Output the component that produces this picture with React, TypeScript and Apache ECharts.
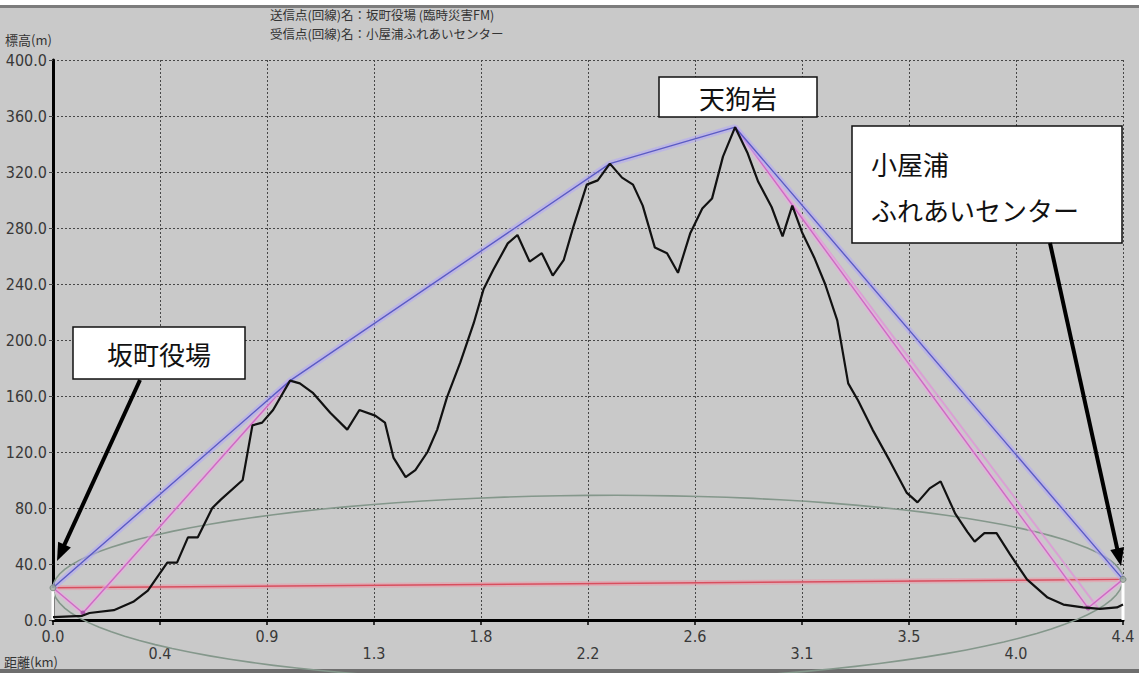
import React, { useEffect, useRef } from "react";
import * as echarts from "echarts";

// Terrain profile between the two stations (distance km, elevation m)
const distanceKm = [
  0.0, 0.12, 0.15, 0.25, 0.33, 0.39, 0.43, 0.47, 0.51, 0.555, 0.595, 0.655, 0.69, 0.78, 0.82, 0.86,
  0.905, 0.975, 1.015, 1.07, 1.14, 1.21, 1.26, 1.325, 1.365, 1.4, 1.45, 1.49, 1.54, 1.58, 1.62,
  1.675, 1.73, 1.77, 1.81, 1.87, 1.91, 1.96, 2.01, 2.055, 2.1, 2.14, 2.195, 2.24, 2.29, 2.34,
  2.385, 2.425, 2.475, 2.525, 2.57, 2.62, 2.67, 2.71, 2.755, 2.805, 2.855, 2.9, 2.955, 3.0, 3.04,
  3.08, 3.13, 3.175, 3.225, 3.27, 3.31, 3.37, 3.44, 3.51, 3.555, 3.605, 3.65, 3.71, 3.76, 3.79,
  3.83, 3.88, 3.935, 4.005, 4.09, 4.155, 4.235, 4.305, 4.375, 4.4,
];
const elevationM = [
  2, 3, 5, 7, 13, 21, 31, 41, 41, 59, 59, 80, 86, 100, 139, 141,
  150, 171, 169, 162, 148, 136, 150, 146, 141, 116, 102, 107, 120, 136, 159,
  184, 212, 236, 250, 269, 275, 256, 262, 246, 257, 281, 311, 314, 326, 316,
  311, 296, 266, 262, 248, 276, 294, 301, 331, 352, 334, 313, 295, 274, 296,
  277, 259, 240, 214, 169, 157, 136, 114, 91, 84, 94, 99, 76, 63, 56,
  62, 62, 47, 29, 16, 11, 9, 8, 9, 11,
];

// Stations: 坂町役場 (transmit) and 小屋浦ふれあいセンター (receive)
const stationKm = [0, 4.4];
const stationHeightM = [23, 29];

// Line of sight over the obstructing peaks
const sightKm = [0, 0.975, 2.29, 2.805, 4.4];
const sightM = [23, 171, 326, 352, 29];

// Ground-reflected paths
const reflectLeftKm = [0, 0.123, 0.975];
const reflectLeftM = [23, 5, 171];
const reflectRightKm = [2.805, 4.256, 4.4];
const reflectRightM = [352, 8.6, 29];
const reflectRightAltKm = [2.805, 4.3];
const reflectRightAltM = [352, 8];

// Fresnel zone half-heights at mid-path (m): above and below the direct path
const fresnelUpperM = 63;
const fresnelLowerM = 70;

const xTicks = { min: 0, max: 4.4, step: 0.44 };
const yTicks = { min: 0, max: 400, step: 40 };

const FONT_NUM = '"Liberation Sans Narrow", "DejaVu Sans Condensed", "Arial Narrow", "Liberation Sans", sans-serif';
const FONT_JP = '"Noto Sans CJK JP", "Noto Sans CJK SC", sans-serif';

const pairs = (xs: number[], ys: number[]) => xs.map((x, i) => [x, ys[i]]);

function arrow(sx: number, sy: number, tx: number, ty: number) {
  const dx = tx - sx;
  const dy = ty - sy;
  const len = Math.hypot(dx, dy);
  const ux = dx / len;
  const uy = dy / len;
  const headLen = 18;
  const headHalf = 7;
  const bx = tx - ux * headLen;
  const by = ty - uy * headLen;
  return [
    {
      type: "line",
      z: 60,
      shape: { x1: sx, y1: sy, x2: bx + ux * 2, y2: by + uy * 2 },
      style: { stroke: "#000", lineWidth: 4 },
    },
    {
      type: "polygon",
      z: 60,
      shape: {
        points: [
          [tx, ty],
          [bx - uy * headHalf, by + ux * headHalf],
          [bx + uy * headHalf, by - ux * headHalf],
        ],
      },
      style: { fill: "#000" },
    },
  ];
}

function callout(x: number, y: number, w: number, h: number) {
  return {
    type: "rect",
    z: 50,
    shape: { x, y, width: w, height: h },
    style: { fill: "#fff", stroke: "#111", lineWidth: 1.5 },
  };
}

function calloutText(x: number, y: number, text: string, align: string) {
  return {
    type: "text",
    z: 55,
    x,
    y,
    style: {
      text,
      fill: "#111",
      font: `26px ${FONT_JP}`,
      align,
      verticalAlign: "middle",
    },
  };
}

export default function App() {
  const ref = useRef<HTMLDivElement>(null);

  useEffect(() => {
    if (!ref.current) return;
    const chart = echarts.init(ref.current, null, { renderer: "svg" });

    const numLabel = { fontFamily: FONT_NUM, fontSize: 16, color: "#383838" };

    const option = {
      animation: false,
      backgroundColor: "#c9c9c9",
      grid: { left: 53, right: 16, top: 60, bottom: 53 },
      xAxis: {
        type: "value",
        min: xTicks.min,
        max: xTicks.max,
        interval: xTicks.step,
        axisLine: { show: true, onZero: false, lineStyle: { color: "#000", width: 3 } },
        axisTick: { show: true, length: 5, lineStyle: { color: "#000", width: 1.5 } },
        axisLabel: {
          margin: 5,
          verticalAlign: "top",
          formatter: (v: number, i: number) => `{${i % 2 === 0 ? "up" : "down"}|${v.toFixed(1)}}`,
          rich: {
            up: { ...numLabel, lineHeight: 22, verticalAlign: "middle" },
            down: { ...numLabel, lineHeight: 36, verticalAlign: "bottom" },
          },
        },
        splitLine: { show: true, lineStyle: { color: "#474747", type: [2, 2], width: 1 } },
      },
      yAxis: {
        type: "value",
        min: yTicks.min,
        max: yTicks.max,
        interval: yTicks.step,
        axisLine: { show: true, lineStyle: { color: "#000", width: 3 } },
        axisTick: { show: true, length: 4, lineStyle: { color: "#444", width: 1 } },
        axisLabel: {
          margin: 6,
          formatter: (v: number) => v.toFixed(1),
          ...numLabel,
        },
        splitLine: { show: true, lineStyle: { color: "#474747", type: [2, 2], width: 1 } },
      },
      graphic: [
        { type: "rect", z: 1, shape: { x: 0, y: 0, width: 1139, height: 5 }, style: { fill: "#fff" } },
        { type: "rect", z: 1, shape: { x: 0, y: 5, width: 1139, height: 3 }, style: { fill: "#7c7c7c" } },
        { type: "rect", z: 0, shape: { x: 0, y: 669, width: 1139, height: 4 }, style: { fill: "#6e6e6e" } },
        {
          type: "text",
          z: 5,
          x: 270,
          y: 8,
          style: { text: "送信点(回線)名：坂町役場 (臨時災害FM)", fill: "#333", font: `12.5px ${FONT_JP}` },
        },
        {
          type: "text",
          z: 5,
          x: 270,
          y: 27,
          style: { text: "受信点(回線)名：小屋浦ふれあいセンター", fill: "#333", font: `12.5px ${FONT_JP}` },
        },
        {
          type: "text",
          z: 5,
          x: 5,
          y: 33,
          style: { text: "標高(m)", fill: "#333", font: `13px ${FONT_JP}` },
        },
        {
          type: "text",
          z: 5,
          x: 4,
          y: 655,
          style: { text: "距離(km)", fill: "#333", font: `13px ${FONT_JP}` },
        },
        callout(73, 327, 172, 52),
        calloutText(159, 353, "坂町役場", "center"),
        callout(659, 77, 158, 40),
        calloutText(738, 97, "天狗岩", "center"),
        callout(852, 126, 270, 117),
        calloutText(871, 163, "小屋浦", "left"),
        calloutText(871, 209, "ふれあいセンター", "left"),
        ...arrow(140, 380, 57, 561),
        ...arrow(1050, 243, 1121, 566),
      ],
      series: [
        {
          type: "custom",
          name: "fresnel",
          clip: false,
          z: 3,
          data: [[stationKm[0], stationHeightM[0], stationKm[1], stationHeightM[1], fresnelUpperM, fresnelLowerM]],
          renderItem: (_params: any, api: any) => {
            const x0 = api.value(0);
            const y0 = api.value(1);
            const x1 = api.value(2);
            const y1 = api.value(3);
            const bUp = api.value(4);
            const bDown = api.value(5);
            const xc = (x0 + x1) / 2;
            const a = (x1 - x0) / 2;
            const pts: number[][] = [];
            for (let k = 0; k <= 120; k++) {
              const th = (k / 120) * Math.PI * 2;
              const x = xc + a * Math.cos(th);
              const mid = y0 + ((x - x0) / (x1 - x0)) * (y1 - y0);
              const s = Math.sin(th);
              pts.push(api.coord([x, mid + (s >= 0 ? bUp : bDown) * s]));
            }
            return {
              type: "polyline",
              shape: { points: pts },
              style: { stroke: "#84978b", lineWidth: 1.6, fill: null },
            };
          },
        },
        {
          type: "line",
          name: "direct-halo",
          z: 4,
          data: pairs(stationKm, stationHeightM),
          showSymbol: false,
          lineStyle: { color: "rgba(236,150,165,0.55)", width: 5 },
        },
        {
          type: "line",
          name: "direct",
          z: 4,
          data: pairs(stationKm, stationHeightM),
          showSymbol: false,
          lineStyle: { color: "#d84e5e", width: 1.4 },
        },
        {
          type: "line",
          name: "reflect-alt",
          z: 5,
          data: pairs(reflectRightAltKm, reflectRightAltM),
          showSymbol: false,
          lineStyle: { color: "rgba(222,150,215,0.8)", width: 2 },
        },
        ...[pairs(reflectLeftKm, reflectLeftM), pairs(reflectRightKm, reflectRightM)].flatMap((d) => [
          {
            type: "line",
            z: 5,
            data: d,
            showSymbol: false,
            lineStyle: { color: "rgba(235,170,225,0.55)", width: 5 },
          },
          {
            type: "line",
            z: 6,
            data: d,
            showSymbol: false,
            lineStyle: { color: "#cf68c4", width: 1.4 },
          },
        ]),
        {
          type: "line",
          name: "sight-halo",
          z: 6,
          data: pairs(sightKm, sightM),
          showSymbol: false,
          lineStyle: { color: "rgba(180,170,245,0.6)", width: 6 },
        },
        {
          type: "line",
          name: "sight",
          z: 7,
          data: pairs(sightKm, sightM),
          showSymbol: false,
          lineStyle: { color: "#5b5bc4", width: 1.4 },
        },
        ...stationKm.map((x, i) => ({
          type: "line",
          z: 8,
          clip: false,
          data: [
            [x, 0],
            [x, stationHeightM[i]],
          ],
          showSymbol: false,
          lineStyle: { color: "#ffffff", width: 3 },
        })),
        {
          type: "scatter",
          z: 9,
          data: pairs(stationKm, stationHeightM),
          symbolSize: 6,
          clip: false,
          itemStyle: { color: "#9aa89e", borderColor: "#6f7f74", borderWidth: 1 },
        },
        {
          type: "scatter",
          z: 9,
          data: [
            [reflectLeftKm[1], reflectLeftM[1]],
            [reflectRightKm[1], reflectRightM[1]],
          ],
          symbolSize: 5,
          itemStyle: { color: "#a04aa0" },
        },
        {
          type: "line",
          name: "terrain",
          z: 10,
          data: pairs(distanceKm, elevationM),
          showSymbol: false,
          lineStyle: { color: "#111", width: 2.2 },
        },
      ],
    };

    chart.setOption(option as any);
    return () => chart.dispose();
  }, []);

  return (
    <div
      ref={ref}
      style={{ position: "fixed", left: 0, top: 0, width: 1139, height: 673, background: "#c9c9c9" }}
    />
  );
}
